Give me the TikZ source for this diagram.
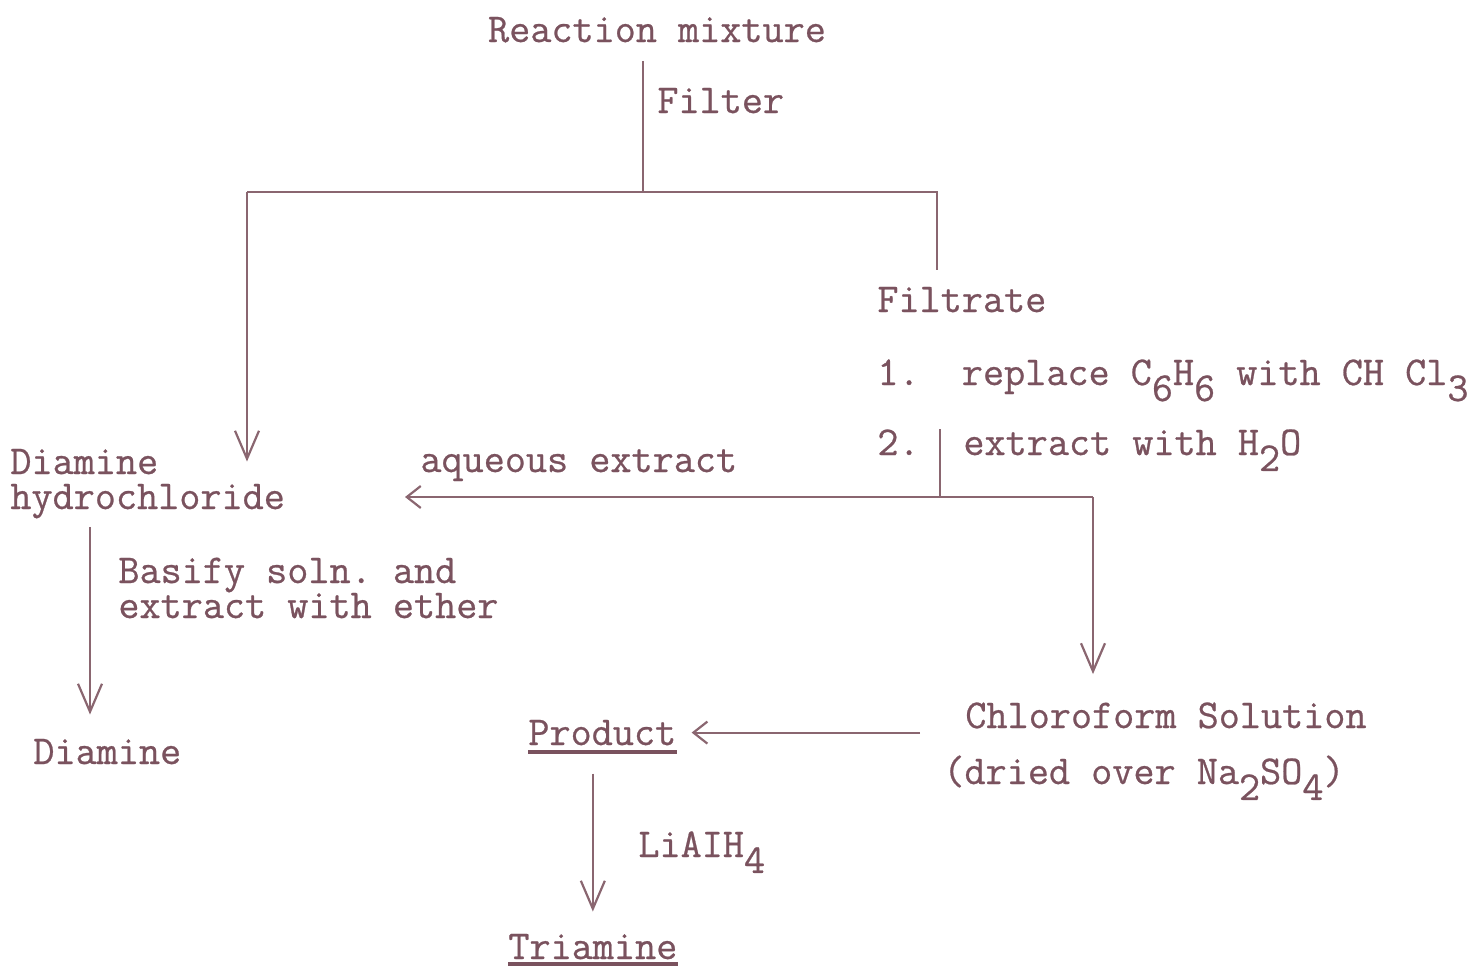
\documentclass[tikz,border=0pt]{standalone}
\usepackage{fontspec}
\usetikzlibrary{arrows.meta, positioning}
\newfontfamily\typewriter[FakeBold=0.6]{Latin Modern Mono}
\definecolor{ink}{RGB}{122,82,94}
\definecolor{pen}{RGB}{138,102,112}
\newcommand{\lo}[1]{\raisebox{-0.9ex}{#1}}
\frenchspacing

\begin{document}
\begin{tikzpicture}[
    x=0.5pt, y=-0.5pt,
    txt/.style={inner sep=0pt, text=ink, align=left, font=\typewriter\fontsize{20.5}{17.5}\selectfont},
    line/.style={draw=pen, line width=1.1pt},
    arrow/.style={line, -{Straight Barb[length=14pt, width=12pt, line width=1.1pt]}},
    sarrow/.style={line, -{Straight Barb[length=7pt, width=11pt, line width=1.1pt]}},
    uline/.style={draw=ink, line width=1.6pt}
]
    \useasboundingbox (0,0) rectangle (1474,969);

    % top: reaction mixture and the filtration split
    \node[txt, anchor=base] (mixture) at (657,42) {Reaction mixture};
    \node[txt, anchor=base west] (filter) at (657,113) {Filter};
    \coordinate (split) at (643,192);
    \coordinate (lcorner) at (247,192);
    \coordinate (rcorner) at (937,192);

    % filtrate side
    \node[txt, anchor=base west] (filtrate) at (877,312) {Filtrate};
    \node[txt, anchor=base west] (step1) at (877,385) {1.\ \ replace C\lo{6}H\lo{6} with CH Cl\lo{3}};
    \node[txt, anchor=base west] (step2) at (877,455) {2.};
    \node[txt, anchor=base west] (extract) at (963,455) {extract with H\lo{2}O};
    \coordinate (aq) at (940,497);
    \coordinate (rdrop) at (1093,497);

    % solid side (base = last line)
    \node[txt, anchor=base west] (hcl) at (10,509) {Diamine\\hydrochloride};
    \node[txt, anchor=base west] (aqueous) at (420,472) {aqueous extract};
    \node[txt, anchor=base west] (basify) at (118,618) {Basify soln. and\\extract with ether};
    \node[txt, anchor=base west] (diamine) at (33,764) {Diamine};

    % chloroform layer
    \node[txt, anchor=base west] (chloro) at (965,728) {Chloroform Solution};
    \node[txt, anchor=base west] (dried) at (943,784) {(dried over Na\lo{2}SO\lo{4})};
    \node[txt, anchor=base west] (product) at (528,745) {Product};
    \node[txt, anchor=base west] (lah) at (638,857) {LiAIH\lo{4}};
    \node[txt, anchor=base west] (triamine) at (508,959) {Triamine};

    \draw[uline] ([yshift=-3.5pt]product.base west) -- ([yshift=-3.5pt]product.base east);
    \draw[uline] ([yshift=-2.5pt]triamine.base west) -- ([yshift=-2.5pt]triamine.base east);

    % connectors
    \draw[line, shorten <=9pt] (split |- mixture.south) -- (split);
    \draw[line] (lcorner) -- (rcorner) -- ([yshift=-39pt]rcorner);
    \draw[arrow, shorten >=-6.5pt] (lcorner) -- (lcorner |- hcl.north);
    \draw[line] (aq |- extract.north) -- (aq) -- (rdrop);
    \draw[sarrow, shorten >=-7.5pt] (aq) -- (aq -| aqueous.west);
    \draw[arrow, shorten >=14pt] (rdrop) -- (rdrop |- chloro.north);
    \draw[arrow, shorten <=4pt, shorten >=12pt] ([xshift=40pt]hcl.south west) -- ([xshift=40pt]hcl.south west |- diamine.north);
    \draw[sarrow, shorten >=7.5pt] ([xshift=-22.5pt]chloro.west |- product.center) -- (product.east);
    \draw[arrow, shorten <=14pt, shorten >=11pt] (product.south -| triamine.north) -- (triamine.north);
\end{tikzpicture}
\end{document}
